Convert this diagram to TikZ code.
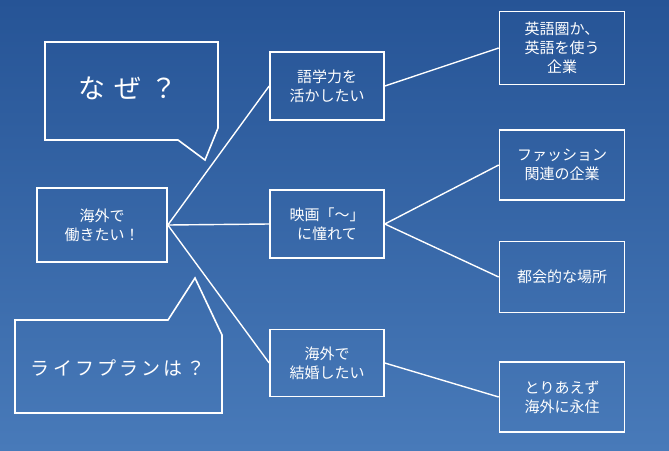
\documentclass[tikz,border=0pt]{standalone}
\usepackage{fontspec}
\setmainfont{Noto Sans CJK JP}
\begin{document}
\begin{tikzpicture}[x=1pt,y=-1pt,
  bx/.style={draw=white,line width=1.6pt,text=white,align=center,font=\fontsize{15}{19}\selectfont,inner sep=0pt},
  ln/.style={draw=white,line width=1.4pt}]
\shade[top color={rgb,255:red,38;green,84;blue,150},bottom color={rgb,255:red,72;green,122;blue,185}] (0,0) rectangle (669,450);
\useasboundingbox (0,0) rectangle (669,450);
% speech bubbles
\draw[ln,line width=1.6pt,line join=miter] (45,42) -- (218,42) -- (218,128) -- (205,160) -- (178,140) -- (45,140) -- cycle;
\node[text=white,font=\fontsize{27}{30}\selectfont] (naze) at (128,88) {な\,\,ぜ\,\,？};
\draw[ln,line width=1.6pt,line join=miter] (15,320) -- (168,320) -- (195,278) -- (222,335) -- (222,413) -- (15,413) -- cycle;
\node[text=white,font=\fontsize{19}{22}\selectfont] (life) at (118,368) {ラ\,イ\,フ\,プ\,ラ\,ン\,は\,？};
% boxes
\node[bx,minimum width=130,minimum height=74] (root) at (102,225) {海外で\\働きたい！};
\node[bx,minimum width=114,minimum height=68] (a) at (327,86) {語学力を\\活かしたい};
\node[bx,minimum width=114,minimum height=68] (b) at (327,224) {映画「～」\\に憧れて};
\node[bx,minimum width=114,minimum height=67] (c) at (327,363) {海外で\\結婚したい};
\node[bx,minimum width=125,minimum height=73] (a1) at (562,48) {英語圏か、\\英語を使う\\企業};
\node[bx,minimum width=125,minimum height=70] (b1) at (562,165) {ファッション\\関連の企業};
\node[bx,minimum width=125,minimum height=71] (b2) at (562,277) {都会的な場所};
\node[bx,minimum width=125,minimum height=70] (c1) at (562,397) {とりあえず\\海外に永住};
% connectors
\draw[ln] (root.east) -- (a.west);
\draw[ln] (root.east) -- (b.west);
\draw[ln] (root.east) -- (c.west);
\draw[ln] (a.east) -- (a1.west);
\draw[ln] (b.east) -- (b1.west);
\draw[ln] (b.east) -- (b2.west);
\draw[ln] (c.east) -- (c1.west);
\end{tikzpicture}
\end{document}
